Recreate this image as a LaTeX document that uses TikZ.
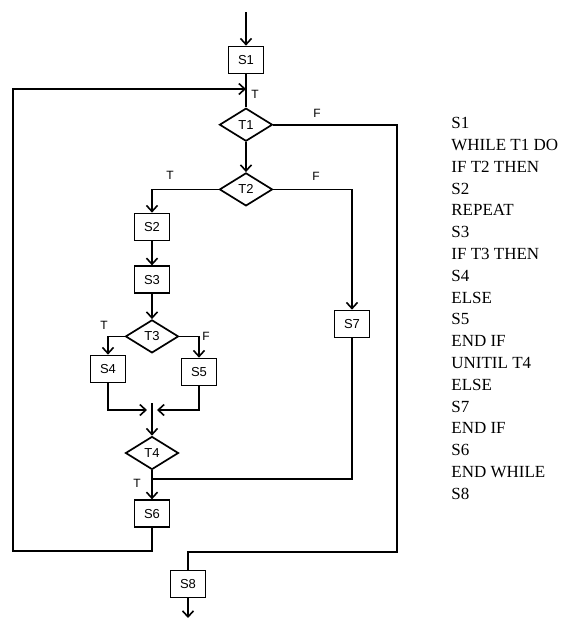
\documentclass[tikz,border=0pt]{standalone}
\usepackage{fontspec}
\setmainfont{Liberation Serif}
\setsansfont{Liberation Sans}
\usetikzlibrary{arrows.meta,positioning,shapes.geometric}

\begin{document}
\begin{tikzpicture}[x=0.5pt,y=-0.5pt,
  box/.style={draw,line width=0.85pt,minimum width=17.5pt,minimum height=13.5pt,
              inner sep=0pt,font=\sffamily\fontsize{6.5}{7}\selectfont},
  dec/.style={draw,diamond,line width=0.85pt,minimum width=26.5pt,minimum height=16.5pt,
              inner sep=0pt,font=\sffamily\fontsize{6.5}{7}\selectfont},
  arr/.style={-{Straight Barb[length=3pt,width=5.5pt]},line width=0.8pt},
  ln/.style={line width=0.8pt},
  lbl/.style={font=\sffamily\fontsize{6}{7}\selectfont,inner sep=0pt},
  prog/.style={align=left,inner sep=0pt,font=\fontsize{8.5}{10.9}\selectfont}
]
\useasboundingbox (0,0) rectangle (572,618);
% main column
\node[box] (s1) at (246,60) {S1};
\node[dec,below=16.5pt of s1] (t1) {T1};
\node[dec,below=15pt of t1] (t2) {T2};
% repeat branch
\node[box] (s2) at (152,227) {S2};
\node[box,below=12pt of s2] (s3) {S3};
\node[dec,below=12.5pt of s3] (t3) {T3};
\node[box] (s4) at (108,369) {S4};
\node[box] (s5) at (199,372) {S5};
\node[dec] (t4) at (152,453) {T4};
\node[box,below=14.5pt of t4] (s6) {S6};
% else branch and exit
\node[box] (s7) at (352,324) {S7};
\node[box] (s8) at (188,584) {S8};

\coordinate (in) at (246,12);
\coordinate (out) at (188,618);
\coordinate (j1) at (246,89);
\coordinate (lp) at (13,551);
\coordinate (rt) at (397,552);
\coordinate (mg) at (152,410);
\coordinate (mtop) at (152,403);
\coordinate (j2) at (152,479);

\draw[arr] (in) -- (s1);
\draw[ln] (s1) -- (t1);
\draw[arr] (s6.south) |- (lp) |- (j1);
\draw[arr] (t1) -- (t2);
\draw[ln] (t1.east) -| (rt) -| (s8.north);
\draw[arr] (t2.west) -| (s2.north);
\draw[arr] (t2.east) -| (s7.north);
\draw[arr] (s2) -- (s3);
\draw[arr] (s3) -- (t3);
\draw[arr] (t3.west) -| (s4.north);
\draw[arr] (t3.east) -| (s5.north);
\draw[arr,shorten >=2.5pt] (s4.south) |- (mg);
\draw[arr,shorten >=2.5pt] (s5.south) |- (mg);
\draw[arr] (mtop) -- (t4);
\draw[arr] (t4) -- (s6);
\draw[ln] (s7.south) |- (j2);
\draw[arr] (s8) -- (out);

% branch labels
\node[lbl] (lt1) at (255,94) {T};
\node[lbl] (lf1) at (317,113) {F};
\node[lbl] (lt2) at (170,175) {T};
\node[lbl] (lf2) at (316,176) {F};
\node[lbl] (lt3) at (104,325) {T};
\node[lbl] (lf3) at (206,336) {F};
\node[lbl] (lt4) at (137,483) {T};

% program text
\node[prog,anchor=north west] (code) at (451,117) {S1\\WHILE T1 DO\\IF T2 THEN\\S2\\REPEAT\\S3\\IF T3 THEN\\S4\\ELSE\\S5\\END IF\\UNITIL T4\\ELSE\\S7\\END IF\\S6\\END WHILE\\S8};
\end{tikzpicture}
\end{document}
